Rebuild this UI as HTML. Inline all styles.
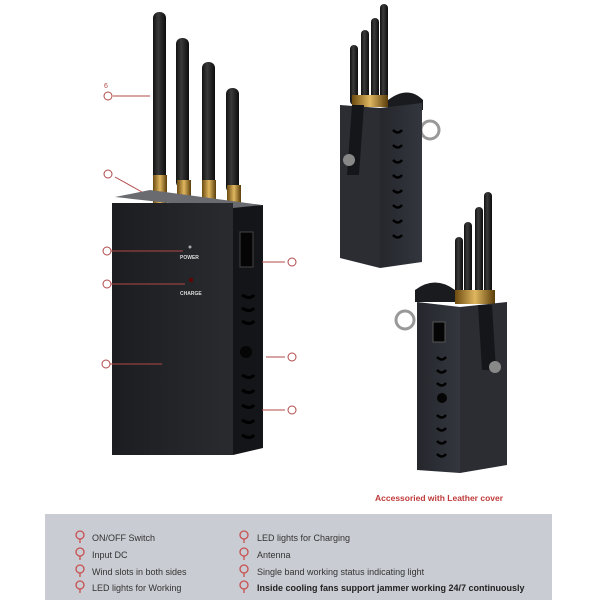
<!DOCTYPE html>
<html><head><meta charset="utf-8"><style>
body{margin:0;width:600px;height:600px;background:#fff;overflow:hidden;font-family:"Liberation Sans",sans-serif}
</style></head><body>
<svg width="600" height="600" viewBox="0 0 600 600" xmlns="http://www.w3.org/2000/svg" font-family="Liberation Sans, sans-serif">
<defs>
<linearGradient id="ant" x1="0" x2="1"><stop offset="0" stop-color="#111"/><stop offset=".4" stop-color="#3a3a3a"/><stop offset="1" stop-color="#0c0c0c"/></linearGradient>
<linearGradient id="gold" x1="0" x2="1"><stop offset="0" stop-color="#6b4a10"/><stop offset=".5" stop-color="#e0b760"/><stop offset="1" stop-color="#5a3d0a"/></linearGradient>
<linearGradient id="front" x1="0" x2="1"><stop offset="0" stop-color="#1c1d20"/><stop offset="1" stop-color="#2a2b2f"/></linearGradient>
<linearGradient id="leather" x1="0" x2="1"><stop offset="0" stop-color="#25272d"/><stop offset="1" stop-color="#33363d"/></linearGradient>
</defs>
<g>
<rect x="153" y="12" width="13" height="175" rx="6" fill="url(#ant)"/>
<rect x="176" y="38" width="13" height="150" rx="6" fill="url(#ant)"/>
<rect x="202" y="62" width="13" height="128" rx="6" fill="url(#ant)"/>
<rect x="226" y="88" width="13" height="105" rx="6" fill="url(#ant)"/>
<rect x="153" y="175" width="14" height="35" fill="url(#gold)"/>
<rect x="177" y="180" width="14" height="32" fill="url(#gold)"/>
<rect x="202" y="180" width="14" height="30" fill="url(#gold)"/>
<rect x="227" y="185" width="14" height="28" fill="url(#gold)"/>
</g>
<polygon points="115,197 150,190 262,205 233,210" fill="#6a6b70"/>
<rect x="112" y="203" width="121" height="252" fill="url(#front)"/>
<polygon points="233,208 263,205 263,448 233,455" fill="#141518"/>
<rect x="240" y="232" width="13" height="35" fill="#050505" stroke="#444"/>
<circle cx="246" cy="352" r="6" fill="#050505"/>
<g stroke="#000" stroke-width="3" fill="none">
<path d="M242 295 q8 5 12 0"/><path d="M242 308 q8 5 12 0"/><path d="M242 321 q8 5 12 0"/>
<path d="M242 375 q8 5 12 0"/><path d="M242 390 q8 5 12 0"/><path d="M242 405 q8 5 12 0"/><path d="M242 420 q8 5 12 0"/><path d="M242 435 q8 5 12 0"/>
</g>
<circle cx="190" cy="247" r="1.5" fill="#aaa"/><text x="180" y="259" font-size="5" fill="#ddd" font-weight="bold">POWER</text>
<circle cx="191" cy="280" r="2" fill="#600"/><text x="180" y="295" font-size="5" fill="#ddd" font-weight="bold">CHARGE</text>
<g stroke="#b04848" stroke-width="1" fill="none">
<line x1="113" y1="96" x2="150" y2="96"/><line x1="115" y1="177" x2="142" y2="192"/>
<line x1="111" y1="251" x2="183" y2="251"/><line x1="111" y1="284" x2="185" y2="284"/>
<line x1="110" y1="364" x2="162" y2="364"/>
<line x1="262" y1="262" x2="285" y2="262"/><line x1="266" y1="357" x2="285" y2="357"/><line x1="262" y1="410" x2="285" y2="410"/>
<circle cx="108" cy="96" r="4"/><circle cx="108" cy="174" r="4"/><circle cx="107" cy="251" r="4"/><circle cx="107" cy="284" r="4"/><circle cx="106" cy="364" r="4"/>
<circle cx="292" cy="262" r="4"/><circle cx="292" cy="357" r="4"/><circle cx="292" cy="410" r="4"/>
</g>
<text x="104" y="88" font-size="7" fill="#b04848">6</text>
<rect x="350" y="45" width="8" height="60" rx="4" fill="url(#ant)"/>
<rect x="361" y="30" width="8" height="75" rx="4" fill="url(#ant)"/>
<rect x="371" y="18" width="8" height="87" rx="4" fill="url(#ant)"/>
<rect x="380" y="4" width="8" height="100" rx="4" fill="url(#ant)"/>
<rect x="352" y="95" width="36" height="12" fill="url(#gold)"/>
<path d="M388 100 q20 -15 35 0 l0 10 l-35 0z" fill="#1a1b1f"/>
<circle cx="430" cy="130" r="9" fill="none" stroke="#999" stroke-width="3"/>
<polygon points="340,105 380,108 380,268 340,258" fill="#2b2d33"/>
<polygon points="380,108 422,103 422,262 380,268" fill="url(#leather)"/>
<path d="M352 105 l12 0 l-5 70 l-12 0z" fill="#15161a"/>
<circle cx="349" cy="160" r="6" fill="#888"/>
<g stroke="#000" stroke-width="2.5" fill="none">
<path d="M393 130 q5 5 9 0"/><path d="M393 145 q5 5 9 0"/><path d="M393 160 q5 5 9 0"/><path d="M393 175 q5 5 9 0"/><path d="M393 190 q5 5 9 0"/><path d="M393 205 q5 5 9 0"/><path d="M393 220 q5 5 9 0"/><path d="M393 235 q5 5 9 0"/>
</g>
<rect x="455" y="237" width="8" height="65" rx="4" fill="url(#ant)"/>
<rect x="464" y="222" width="8" height="80" rx="4" fill="url(#ant)"/>
<rect x="475" y="207" width="8" height="95" rx="4" fill="url(#ant)"/>
<rect x="484" y="192" width="8" height="110" rx="4" fill="url(#ant)"/>
<rect x="455" y="290" width="40" height="14" fill="url(#gold)"/>
<path d="M415 290 q20 -15 40 0 l0 12 l-40 0z" fill="#1a1b1f"/>
<circle cx="405" cy="320" r="9" fill="none" stroke="#999" stroke-width="3"/>
<polygon points="417,302 460,307 460,473 417,470" fill="url(#leather)"/>
<polygon points="460,307 507,302 507,465 460,473" fill="#2b2d33"/>
<path d="M478 305 l14 0 l4 65 l-14 0z" fill="#15161a"/>
<circle cx="495" cy="367" r="6" fill="#888"/>
<rect x="433" y="322" width="12" height="20" fill="#050505" stroke="#555"/>
<circle cx="442" cy="398" r="5" fill="#050505"/>
<g stroke="#000" stroke-width="2.5" fill="none">
<path d="M437 357 q5 5 9 0"/><path d="M437 370 q5 5 9 0"/><path d="M437 383 q5 5 9 0"/><path d="M437 415 q5 5 9 0"/><path d="M437 428 q5 5 9 0"/><path d="M437 441 q5 5 9 0"/><path d="M437 454 q5 5 9 0"/>
</g>
<text x="375" y="501" font-size="8.5" font-weight="bold" fill="#c03a3a">Accessoried with Leather cover</text>
<rect x="45" y="514" width="507" height="86" fill="#c9ccd2"/>
<g font-size="9" fill="#333">
<text x="92" y="541">ON/OFF Switch</text>
<text x="92" y="558">Input DC</text>
<text x="92" y="575">Wind slots in both sides</text>
<text x="92" y="591">LED lights for Working</text>
<text x="257" y="541">LED lights for Charging</text>
<text x="257" y="558">Antenna</text>
<text x="257" y="575">Single band working status indicating light</text>
<text x="257" y="591" font-weight="bold" fill="#222">Inside cooling fans support jammer working 24/7 continuously</text>
</g>
<g fill="none" stroke="#c85050" stroke-width="1.3">
<circle cx="80" cy="535" r="4"/><circle cx="80" cy="552" r="4"/><circle cx="80" cy="569" r="4"/><circle cx="80" cy="585" r="4"/>
<circle cx="244" cy="535" r="4"/><circle cx="244" cy="552" r="4"/><circle cx="244" cy="569" r="4"/><circle cx="244" cy="585" r="4"/>
<path d="M80 539v4M80 556v4M80 573v4M80 589v4M244 539v4M244 556v4M244 573v4M244 589v4"/>
</g>
</svg>
</body></html>
